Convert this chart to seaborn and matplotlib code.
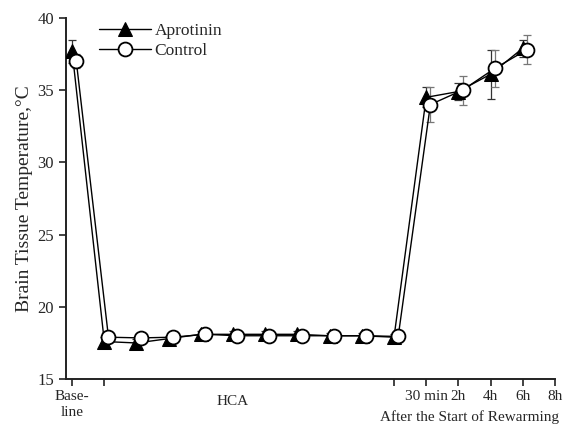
import matplotlib
matplotlib.use("Agg")
import matplotlib.pyplot as plt
import matplotlib.transforms as mtransforms
import seaborn as sns
import pandas as pd
import numpy as np

# ---- data ----
time_index = list(range(15))   # 0 = baseline, 1..10 = HCA, 11..14 = 30 min, 2h, 4h, 6h
aprotinin = [37.7, 17.6, 17.5, 17.8, 18.1, 18.1, 18.1, 18.1, 18.0, 18.0, 17.9, 34.5, 34.9, 36.1, 37.9]
aprotinin_sd = [0.8, 0.3, 0.3, 0.2, 0.2, 0.2, 0.2, 0.2, 0.2, 0.2, 0.2, 0.7, 0.6, 1.7, 0.6]
control = [37.0, 17.9, 17.85, 17.9, 18.1, 18.0, 18.0, 18.0, 18.0, 18.0, 17.95, 34.0, 35.0, 36.5, 37.8]
control_sd = [0.5, 0.2, 0.3, 0.3, 0.2, 0.2, 0.2, 0.2, 0.2, 0.2, 0.3, 1.2, 1.0, 1.3, 1.0]
tick_pos = [0, 1, 10, 11, 12, 13, 14, 15]
tick_labels = ["Base-\nline", "", "", "30 min", "2h", "4h", "6h", "8h"]
series_names = ["Aprotinin", "Control"]

sns.set_theme(style="ticks")
plt.rcParams["font.family"] = ["Liberation Serif", "DejaVu Serif"]

df = pd.DataFrame({
    "t": time_index * 2,
    "temp": aprotinin + control,
    "sd": aprotinin_sd + control_sd,
    "group": [series_names[0]] * len(aprotinin) + [series_names[1]] * len(control),
})
offset = {"Aprotinin": 0.0, "Control": 0.13}
df["x"] = df["t"] + df["group"].map(offset)

fig = plt.figure(figsize=(5.64, 4.25), dpi=100)
ax = fig.add_axes([0.117, 0.108, 0.867, 0.85])

# error bars
for name, col in [("Aprotinin", "#333333"), ("Control", "#777777")]:
    sub = df[df["group"] == name]
    ax.errorbar(sub["x"], sub["temp"], yerr=sub["sd"], fmt="none",
                ecolor=col, elinewidth=0.9, capsize=3, capthick=0.9, zorder=2)

sub_a = df[df["group"] == "Aprotinin"]
sub_c = df[df["group"] == "Control"]
sns.lineplot(data=sub_a, x="x", y="temp", ax=ax, color="black", linewidth=1.0,
             marker="^", markersize=10, markerfacecolor="black",
             markeredgecolor="black", label="Aprotinin", zorder=3, sort=True)
sns.lineplot(data=sub_c, x="x", y="temp", ax=ax, color="black", linewidth=1.0,
             marker="o", markersize=10, markerfacecolor="white",
             markeredgecolor="black", markeredgewidth=1.3, label="Control", zorder=4, sort=True)

ax.set_xlim(-0.19, 15)
ax.set_ylim(15, 40)
ax.set_yticks([15, 20, 25, 30, 35, 40])
ax.set_xticks(tick_pos)
ax.set_xticklabels(tick_labels, fontsize=11, linespacing=1.3)
ax.tick_params(axis="both", length=5, width=1.2, color="#222222")
ax.tick_params(axis="y", labelsize=12)
ax.tick_params(axis="x", labelsize=11, pad=3)
for s in ["top", "right"]:
    ax.spines[s].set_visible(False)
for s in ["left", "bottom"]:
    ax.spines[s].set_linewidth(1.4)
    ax.spines[s].set_color("#222222")

ax.set_xlabel("")
ax.set_ylabel("Brain Tissue Temperature,°C", fontsize=14, labelpad=3)

trans = mtransforms.blended_transform_factory(ax.transData, ax.transAxes)
ax.text(5.0, -0.045, "HCA", transform=trans, ha="center", va="top", fontsize=11)
ax.text(12.33, -0.085, "After the Start of Rewarming", transform=trans,
        ha="center", va="top", fontsize=11)

leg = ax.legend(loc="upper left", bbox_to_anchor=(0.05, 1.01), frameon=False,
                fontsize=12.5, handlelength=3.0, handletextpad=0.2,
                borderpad=0, labelspacing=0.2)

fig.savefig("out.png", dpi=100)
